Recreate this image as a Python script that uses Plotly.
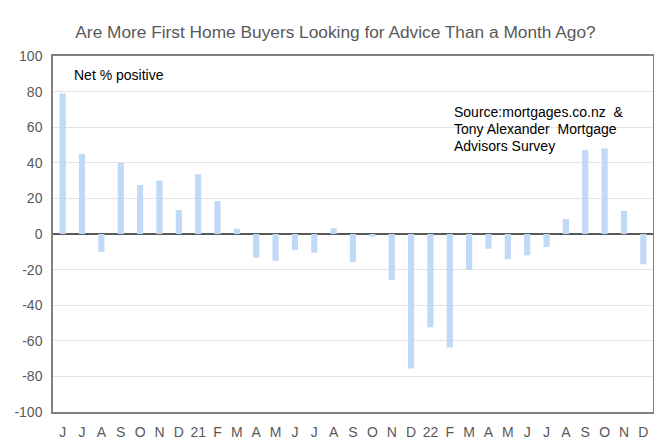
import plotly.graph_objects as go

month_labels = ["J", "J", "A", "S", "O", "N", "D", "21", "F", "M", "A", "M", "J", "J", "A",
                "S", "O", "N", "D", "22", "F", "M", "A", "M", "J", "J", "A", "S", "O", "N", "D"]
net_positive = [79, 45, -10, 40, 27.5, 30, 13.5, 33.5, 18.5, 3, -13.3, -15, -9, -10.5, 3.2,
                -15.7, -1.5, -25.8, -75.5, -52.4, -63.8, -20.2, -8.3, -14.2, -12, -7.3, 8.4,
                47.2, 48.1, 12.9, -17]
y_ticks = [-100, -80, -60, -40, -20, 0, 20, 40, 60, 80, 100]
y_tick_text = ["-100", "-80", "-60", "-40", "-20", "0", "20", "40", "60", "80", "100"]
source_lines = ["Source:mortgages.co.nz &nbsp;&", "Tony Alexander &nbsp;Mortgage", "Advisors Survey"]

x_pos = list(range(len(month_labels)))

# the page places the figure 8px from the top-left corner (default body margin)
W, H = 654, 434

fig = go.Figure()
fig.add_trace(go.Bar(
    x=x_pos, y=net_positive, width=0.32,
    marker=dict(color="#bfd9f6", line=dict(width=0)),
    showlegend=False,
))

font_family = "Liberation Sans, Arial, sans-serif"

fig.update_layout(
    width=W, height=H,
    margin=dict(l=45, r=9, t=48, b=30, autoexpand=False),
    paper_bgcolor="white", plot_bgcolor="white",
    font=dict(family=font_family, size=14, color="#595959"),
    title=dict(text="Are More First Home Buyers Looking for Advice Than a Month Ago?",
               x=327.5 / W, xanchor="center", y=1 - 24 / H, yanchor="middle",
               font=dict(size=17.3, color="#595959", family=font_family)),
)

fig.update_xaxes(
    tickmode="array", tickvals=x_pos, ticktext=month_labels,
    range=[-0.5, len(month_labels) - 0.5],
    showgrid=False, zeroline=False, automargin=False,
    showline=True, linecolor="#808080", linewidth=1.5, mirror=True,
    ticks="", tickfont=dict(size=14, color="#595959"),
    ticklabelstandoff=6,
)
fig.update_yaxes(
    range=[-100, 100], tickmode="array", tickvals=y_ticks, ticktext=y_tick_text,
    showgrid=True, gridcolor="#e3e3e3", gridwidth=1, automargin=False,
    zeroline=True, zerolinecolor="#595959", zerolinewidth=1.5,
    showline=True, linecolor="#808080", linewidth=1.5, mirror=True,
    ticks="", tickfont=dict(size=14, color="#595959"),
    ticklabelstandoff=6,
)

fig.add_annotation(
    text="Net % positive", xref="paper", yref="paper",
    x=(72 - 53) / 600, y=(412 - 75) / 356, xanchor="left", yanchor="middle", showarrow=False,
    font=dict(size=14, color="#000000", family=font_family),
)
for i, line in enumerate(source_lines):
    yc = 112 + i * 17
    fig.add_annotation(
        text=line, xref="paper", yref="paper",
        x=(452 - 53) / 600, y=(412 - yc) / 356, xanchor="left", yanchor="middle",
        showarrow=False, align="left",
        font=dict(size=14, color="#000000", family=font_family),
    )

fig.write_html("out.html")
